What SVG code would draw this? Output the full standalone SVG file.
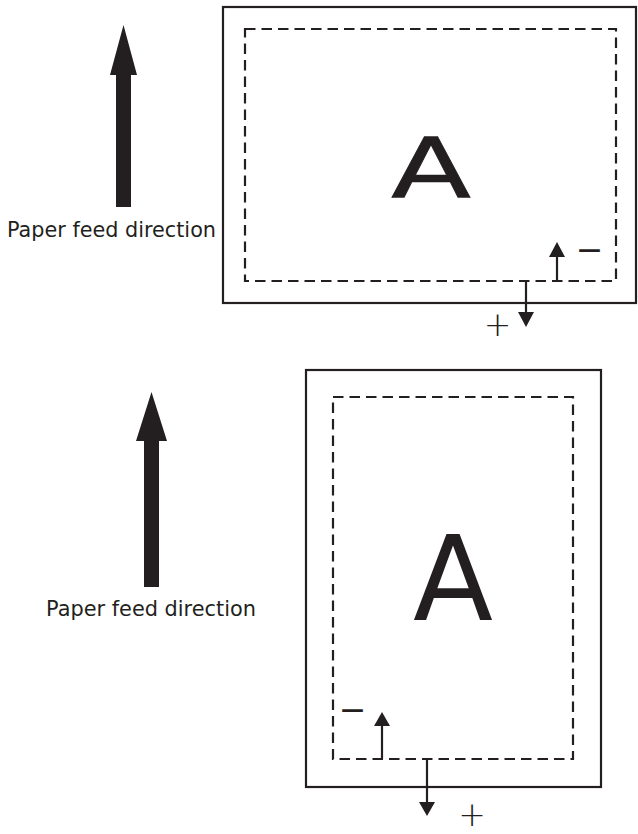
<svg xmlns="http://www.w3.org/2000/svg" width="638" height="834" viewBox="0 0 638 834">
<style>
.page{fill:none;stroke:#231f20;stroke-width:2.2}
.dash{fill:none;stroke:#231f20;stroke-width:2.2;stroke-dasharray:10.5 6}
.shaft{stroke:#231f20;stroke-width:2.2;fill:none}
.head{fill:#231f20}
.big{fill:#231f20}
.lbl{font-family:"DejaVu Sans",Verdana,sans-serif;font-size:22px;fill:#231f20}
.A{font-family:"DejaVu Sans",Verdana,sans-serif;font-size:117px;fill:#231f20;text-anchor:middle}
.pm{font-family:"DejaVu Sans",sans-serif;font-size:33px;fill:#231f20;text-anchor:middle}
.plus{font-weight:200}
</style>
<rect width="638" height="834" fill="#ffffff"/>
<g id="feed-arrow-top">
<polygon class="big" points="123.5,25 137,75 131,75 131,207 116,207 116,75 110,75"/>
<text class="lbl" x="7" y="237" textLength="209" lengthAdjust="spacingAndGlyphs">Paper feed direction</text>
</g>
<g id="page-landscape">
<rect class="page" x="223" y="7" width="413" height="296"/>
<rect class="dash" x="245" y="29" width="371" height="252"/>
<text class="A" transform="translate(431,198) scale(1,0.718)" x="0" y="0" stroke="#231f20" stroke-width="1">A</text>
<text class="pm" x="589.5" y="261">−</text>
<text class="pm plus" x="497.5" y="336">+</text>
</g>
<g id="feed-arrow-bottom">
<polygon class="big" points="151.5,392 167,441 159,441 159,587 144,587 144,441 136,441"/>
<text class="lbl" x="46" y="616" textLength="210" lengthAdjust="spacingAndGlyphs">Paper feed direction</text>
</g>
<g id="page-portrait">
<rect class="page" x="306" y="370" width="295" height="417"/>
<rect class="dash" x="333" y="397" width="240" height="362"/>
<text class="A" x="453" y="620">A</text>
<text class="pm" x="352.5" y="721">−</text>
<text class="pm plus" x="472" y="826">+</text>
</g>
<g id="connectors">
<line class="shaft" x1="557" y1="281" x2="557" y2="256"/>
<polygon class="head" points="557,242 565,257 549,257"/>
<line class="shaft" x1="526" y1="281" x2="526" y2="313"/>
<polygon class="head" points="526,327 534,312 518,312"/>
<line class="shaft" x1="382" y1="759" x2="382" y2="725"/>
<polygon class="head" points="382,712 390,726 374,726"/>
<line class="shaft" x1="427" y1="759" x2="427" y2="803"/>
<polygon class="head" points="427,816 435,802 419,802"/>
</g>
</svg>
